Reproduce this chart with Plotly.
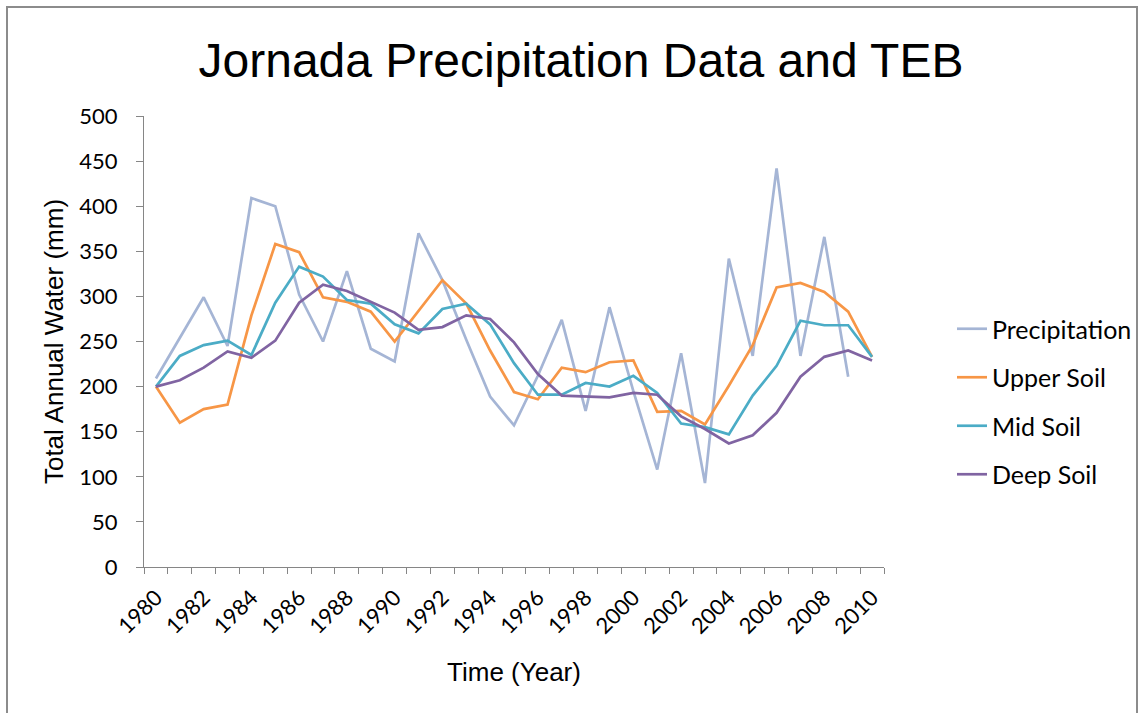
import plotly.graph_objects as go

years = list(range(1980, 2011))
precipitation = [209, 254, 299, 245, 409, 400, 302, 250, 328, 242, 228, 370, 318, 252, 189,
                 157, 212, 274, 173, 288, 195, 108, 237, 93, 342, 234, 442, 234, 366, 211, None]
upper_soil = [200, 160, 175, 180, 279, 358, 349, 299, 294, 283, 250, 284, 318, 292, 240,
              194, 186, 221, 216, 227, 229, 172, 173, 158, 201, 246, 310, 315, 305, 283, 233]
mid_soil = [200, 234, 246, 251, 235, 293, 333, 322, 296, 292, 269, 259, 286, 292, 269,
            226, 191, 191, 204, 200, 212, 193, 159, 155, 147, 190, 223, 273, 268, 268, 233]
deep_soil = [200, 207, 221, 239, 232, 251, 293, 313, 306, 294, 282, 263, 266, 279, 275,
             249, 214, 190, 189, 188, 193, 191, 167, 153, 137, 146, 171, 211, 233, 240, 229]
tick_years = list(range(1980, 2011, 2))

series = [
    ("Precipitation", precipitation, "#A5B5D5"),
    ("Upper Soil", upper_soil, "#F79646"),
    ("Mid Soil", mid_soil, "#4BACC6"),
    ("Deep Soil", deep_soil, "#8064A2"),
]

W, H = 1139, 713
L, R, T, B = 144, 884, 116, 567

fig = go.Figure()
for name, vals, col in series:
    fig.add_trace(go.Scatter(x=years, y=vals, name=name, mode="lines",
                             line=dict(color=col, width=2.7), legendgroup=name,
                             connectgaps=False))

axis_col = "#868686"
fig.update_layout(
    width=W, height=H,
    margin=dict(l=L, r=W - R, t=T, b=H - B, pad=0, autoexpand=False),
    paper_bgcolor="white", plot_bgcolor="white",
    title=dict(text="Jornada Precipitation Data and TEB", xref="container", yref="container",
               x=581 / W, y=1 - 60 / H, xanchor="center", yanchor="middle",
               font=dict(family="Liberation Sans", size=48, color="black")),
    xaxis=dict(range=[1979.5, 2010.5], tickmode="array", tickvals=tick_years,
               ticktext=[str(y) for y in tick_years], tickangle=-45, ticks="",
               showgrid=False, zeroline=False, showline=True, linecolor=axis_col, linewidth=1,
               tickfont=dict(family="Lato", size=22, color="black"), ticklabelstandoff=8,
               minor=dict(tickmode="array", tickvals=[y - 0.5 for y in range(1980, 2012)],
                          ticks="outside", ticklen=6, tickcolor=axis_col, tickwidth=1, showgrid=False),
               title=dict(text="Time (Year)", standoff=24,
                          font=dict(family="Liberation Sans", size=26, color="black"))),
    yaxis=dict(range=[0, 500], tickmode="array", tickvals=list(range(0, 501, 50)),
               ticks="outside", ticklen=7, tickcolor=axis_col, tickwidth=1,
               showgrid=False, zeroline=False, showline=True, linecolor=axis_col, linewidth=1,
               tickfont=dict(family="Lato", size=22, color="black"), ticklabelstandoff=14,
               title=dict(text="Total Annual Water (mm)", standoff=8,
                          font=dict(family="Liberation Sans", size=26, color="black"))),
    legend=dict(x=(952 - L) / (R - L), y=(B - 306) / (B - T), xanchor="left", yanchor="top",
                font=dict(family="Lato", size=25, color="black"), tracegroupgap=13,
                bgcolor="rgba(0,0,0,0)"),
    showlegend=True,
)

# chart border
fig.add_shape(type="rect", xref="paper", yref="paper",
              x0=(7 - L) / (R - L), x1=(1137 - L) / (R - L),
              y0=(B - 730) / (B - T), y1=(B - 7) / (B - T),
              line=dict(color="#8C8C8C", width=2), fillcolor="rgba(0,0,0,0)", layer="below")

fig.write_html("out.html")
